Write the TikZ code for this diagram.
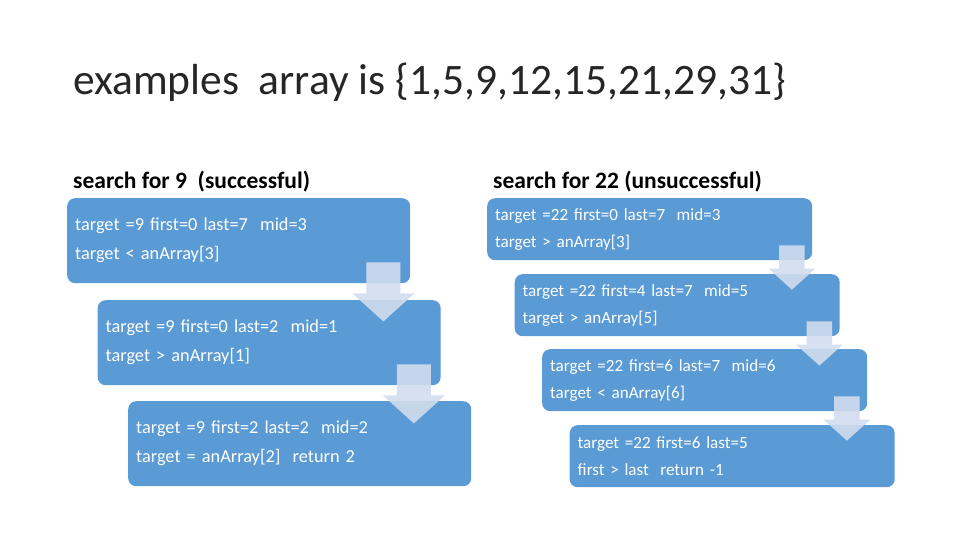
\documentclass[tikz,border=0pt]{standalone}
\usepackage{fontspec}
\setmainfont{Carlito}
\usetikzlibrary{calc}

\definecolor{boxblue}{RGB}{91,155,213}
\definecolor{arrowblue}{RGB}{209,221,238}
\definecolor{titlegray}{RGB}{38,38,38}

\begin{document}
\begin{tikzpicture}[
    x=1pt, y=-1pt, % pixel units, y grows downwards
    heading/.style={anchor=base west, inner sep=0pt},
    trace/.style={fill=boxblue, text=white, rounded corners=8pt, anchor=north west,
        align=left, inner xsep=8pt, inner ysep=0pt}, % one step of the search
    hitbox/.style={trace, text width=327pt, minimum height=85pt, font=\fontsize{18.3}{29}\selectfont},
    missbox/.style={trace, text width=309pt, minimum height=62pt, font=\fontsize{17.1}{27}\selectfont},
    down/.pic={ % block arrow, anchored at the middle of its top edge
        \fill[arrowblue, fill opacity=0.9] (-17,0) -- (17,0) -- (17,31) -- (31,31)
            -- (0,59) -- (-31,31) -- (-17,31) -- cycle;
    }
]
    \useasboundingbox (0,0) rectangle (960,540);

    % Title and headings
    \node[heading, text=titlegray, font=\fontsize{43.5}{48}\selectfont] (title) at (73,95)
        {examples~~array is \{1,5,9,12,15,21,29,31\}};
    \node[heading, font=\bfseries\fontsize{23.5}{28}\selectfont] (hithead) at (73,189)
        {search for 9~~(successful)};
    \node[heading, font=\bfseries\fontsize{23.5}{28}\selectfont] (misshead) at (493,189)
        {search for 22 (unsuccessful)};

    % Successful search
    \node[hitbox] (hit1) at (67,198) {target =9 first=0 last=7~~mid=3\\target < anArray[3]};
    \node[hitbox] (hit2) at ($(hit1.north west)+(30.5,102)$) {target =9 first=0 last=2~~mid=1\\target > anArray[1]};
    \node[hitbox] (hit3) at ($(hit2.north west)+(30.5,101)$) {target =9 first=2 last=2~~mid=2\\target = anArray[2]~~return 2};

    % Unsuccessful search
    \node[missbox] (miss1) at (487,198) {target =22 first=0 last=7~~mid=3\\target > anArray[3]};
    \node[missbox] (miss2) at ($(miss1.north west)+(27.5,76)$) {target =22 first=4 last=7~~mid=5\\target > anArray[5]};
    \node[missbox] (miss3) at ($(miss2.north west)+(27.5,75)$) {target =22 first=6 last=7~~mid=6\\target < anArray[6]};
    \node[missbox] (miss4) at ($(miss3.north west)+(27.5,76)$) {target =22 first=6 last=5\\first > last~~return -1};

    % Arrows between the steps
    \foreach \a in {hit1, hit2}
        \pic at ($(\a.south east)+(-27,-21)$) {down};
    \foreach \a in {miss1, miss2, miss3}
        \pic[scale=0.75] at ($(\a.south east)+(-20.5,-15)$) {down};
\end{tikzpicture}
\end{document}
